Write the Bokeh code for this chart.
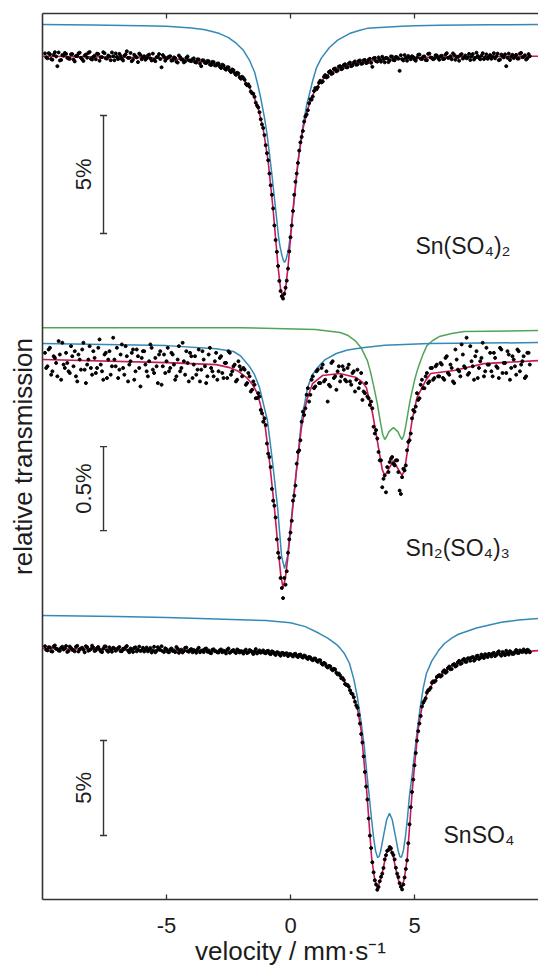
import numpy as np
from math import pi
from bokeh.plotting import figure
from bokeh.models import Range1d, LinearAxis, FixedTicker, Label
from bokeh.embed import file_html
from bokeh.resources import INLINE

# ---------------- data (relative transmission in %) ----------------
# velocity channels, mm/s (two interleaved channel sets)
velocity_a = np.round(np.linspace(-9.9, 9.6, 196), 2)
velocity_b = np.round(np.linspace(-9.85, 9.65, 196), 2)
x_ticks = [-5, 0, 5]

# --- Sn(SO4)2 ---
snso42_points_a = [
    100.09, 99.88, 100.05, 99.82, 100.14, 99.55, 99.79, 100.02, 100.11, 99.9,
    99.86, 100.06, 99.75, 99.97, 100.12, 99.84, 100.0, 99.91, 100.15, 99.83,
    99.99, 100.08, 99.78, 99.93, 100.1, 99.87, 99.96, 100.13, 99.8, 99.94,
    100.07, 99.85, 99.99, 100.18, 99.9, 99.76, 100.03, 99.92, 100.08, 99.84,
    99.97, 99.88, 100.04, 99.79, 99.81, 99.93, 100.06, 99.5, 99.95, 99.87,
    99.95, 99.78, 99.92, 99.74, 100.0, 99.83, 99.71, 99.9, 99.8, 99.76,
    99.88, 99.7, 99.83, 99.55, 99.79, 99.68, 99.76, 99.6, 99.72, 99.58,
    99.66, 99.47, 99.58, 99.4, 99.5, 99.3, 99.38, 99.18, 99.24, 99.02,
    99.05, 98.8, 98.78, 98.47, 98.38, 98.0, 97.8, 97.3, 96.93, 96.2,
    95.56, 94.5, 93.52, 92.18, 91.08, 90.02, 89.7, 90.16, 90.97, 92.3,
    93.41, 94.65, 95.45, 96.32, 96.8, 97.42, 97.68, 98.15, 98.26, 98.62,
    98.66, 98.93, 98.9, 99.17, 99.1, 99.34, 99.25, 99.45, 99.36, 99.55,
    99.45, 99.63, 99.5, 99.7, 99.58, 99.75, 99.62, 99.79, 99.66, 99.81,
    99.7, 99.86, 99.52, 99.9, 99.74, 99.83, 99.95, 99.71, 99.88, 99.79,
    99.95, 99.8, 99.92, 99.35, 99.84, 100.02, 99.78, 99.9, 99.97, 99.83,
    99.91, 100.04, 99.85, 99.96, 99.8, 100.08, 99.9, 99.87, 100.0, 99.82,
    99.99, 99.86, 100.1, 99.91, 99.84, 100.03, 99.95, 99.78, 100.06, 99.92,
    99.88, 100.07, 99.96, 99.83, 100.12, 99.9, 99.99, 99.85, 100.05, 99.93,
    99.86, 100.1, 99.97, 99.8, 100.04, 99.92, 99.55, 100.08, 99.95, 99.89,
    100.03, 99.87, 100.11, 99.94, 99.83, 100.06,
]
snso42_points_b = [
    99.92, 100.1, 99.85, 100.03, 99.96, 100.13, 99.81, 99.99, 100.07, 99.87,
    100.05, 99.83, 99.98, 100.09, 99.9, 99.77, 100.04, 100.11, 99.86, 99.95,
    99.84, 100.06, 99.93, 100.14, 99.88, 100.0, 99.8, 99.97, 100.09, 99.85,
    99.98, 99.79, 100.05, 99.9, 100.11, 99.83, 99.96, 99.72, 100.02, 99.93,
    99.82, 100.0, 99.88, 100.08, 99.76, 99.95, 99.85, 100.02, 99.78, 99.91,
    99.97, 99.8, 99.89, 99.7, 99.93, 99.84, 99.75, 99.96, 99.78, 99.85,
    99.72, 99.84, 99.66, 99.8, 99.69, 99.77, 99.62, 99.73, 99.58, 99.66,
    99.53, 99.61, 99.44, 99.5, 99.36, 99.41, 99.25, 99.27, 99.08, 99.1,
    98.97, 98.74, 98.68, 98.4, 98.25, 97.88, 97.6, 97.08, 96.63, 95.86,
    95.0, 94.1, 92.8, 91.68, 90.45, 89.8, 89.9, 90.46, 91.7, 92.8,
    94.1, 95.0, 95.97, 96.55, 97.2, 97.5, 97.98, 98.13, 98.5, 98.57,
    98.85, 98.86, 99.1, 99.07, 99.3, 99.22, 99.43, 99.33, 99.53, 99.42,
    99.6, 99.5, 99.66, 99.55, 99.7, 99.61, 99.77, 99.65, 99.8, 99.68,
    99.82, 99.69, 99.88, 99.76, 99.92, 99.74, 99.85, 99.9, 99.72, 99.96,
    99.81, 99.94, 99.86, 100.01, 99.79, 99.9, 99.98, 99.84, 99.93, 99.78,
    100.03, 99.86, 99.95, 99.81, 100.07, 99.92, 99.84, 100.01, 99.89, 99.97,
    99.85, 100.04, 99.9, 99.97, 100.09, 99.82, 99.94, 100.02, 99.87, 100.0,
    99.93, 99.81, 100.06, 99.9, 99.98, 99.84, 100.1, 99.92, 99.86, 100.02,
    99.95, 99.88, 100.08, 99.83, 99.97, 100.05, 99.9, 99.81, 100.03, 99.96,
    99.87, 100.08, 99.93, 100.01, 99.88, 99.97,
]
snso42_fit_v = [-10, -8, -6, -5, -4.5, -4, -3.5, -3.3, -3, -2.8, -2.5, -2.25, -2,
                -1.85, -1.7, -1.5, -1.3, -1.1, -0.9, -0.7, -0.6, -0.5, -0.4, -0.3,
                -0.2, -0.1, 0.0, 0.1, 0.3, 0.5, 0.7, 0.9, 1.1, 1.25, 1.4, 1.6, 1.8,
                2.0, 2.3, 2.6, 3, 3.5, 4, 5, 6, 8, 10]
snso42_fit = [99.97, 99.95, 99.91, 99.87, 99.84, 99.79, 99.73, 99.7, 99.62, 99.56,
              99.44, 99.29, 99.09, 98.93, 98.72, 98.33, 97.75, 96.88, 95.51, 93.47,
              92.24, 91.03, 90.1, 89.75, 90.1, 91.03, 92.24, 93.47, 95.51, 96.88,
              97.75, 98.33, 98.72, 98.93, 99.09, 99.26, 99.39, 99.48, 99.59, 99.67,
              99.74, 99.8, 99.85, 99.9, 99.93, 99.96, 99.97]
snso42_sn4_v = [-10, -8, -6, -5, -4, -3.5, -3.2, -2.86, -2.5, -2.18, -1.9, -1.65,
                -1.45, -1.33, -1.2, -1.05, -0.95, -0.85, -0.75, -0.65, -0.56, -0.48,
                -0.42, -0.36, -0.3, -0.24, -0.18, -0.12, -0.08, -0.04, 0.06, 0.16,
                0.26, 0.36, 0.46, 0.56, 0.66, 0.77, 0.9, 1.05, 1.25, 1.57, 1.9, 2.38,
                2.8, 3.1, 3.6, 4.5, 5, 6, 8, 10]
snso42_sn4 = [101.31, 101.29, 101.26, 101.24, 101.17, 101.1, 101.03, 100.93, 100.76,
              100.51, 100.22, 99.79, 99.3, 98.81, 98.2, 97.37, 96.7, 95.85, 94.95,
              93.98, 93.1, 92.29, 91.9, 91.6, 91.35, 91.23, 91.35, 91.6, 91.8, 92.1,
              92.95, 93.98, 95.0, 95.97, 96.75, 97.37, 97.95, 98.39, 98.95, 99.49,
              99.9, 100.34, 100.65, 100.93, 101.07, 101.15, 101.19, 101.24, 101.26,
              101.28, 101.3, 101.31]

# --- Sn2(SO4)3 ---
sn2so43_points_a = [
    100.04, 99.96, 100.07, 99.93, 100.01, 99.9, 100.03, 100.1, 99.95, 99.98,
    99.92, 100.02, 100.05, 99.87, 100.0, 100.06, 99.94, 99.97, 100.08, 99.91,
    100.01, 99.95, 100.12, 99.93, 100.03, 99.89, 100.05, 99.96, 100.0, 100.07,
    99.94, 100.09, 99.91, 100.02, 99.97, 100.04, 99.88, 100.06, 99.95, 100.01,
    100.05, 99.93, 99.99, 100.07, 99.92, 99.96, 100.03, 99.85, 100.03, 99.99,
    99.93, 100.04, 99.97, 99.9, 100.08, 99.95, 99.99, 100.05, 99.87, 100.02,
    99.97, 99.91, 100.06, 99.94, 100.0, 99.86, 100.03, 99.95, 99.9, 100.04,
    99.93, 100.02, 99.89, 99.98, 100.05, 99.91, 99.96, 99.87, 99.99, 99.94,
    99.95, 99.85, 99.92, 99.81, 99.87, 99.77, 99.8, 99.7, 99.63, 99.61,
    99.44, 99.36, 99.16, 99.06, 98.85, 98.7, 98.58, 98.66, 98.85, 98.97,
    99.16, 99.25, 99.45, 99.52, 99.69, 99.71, 99.83, 99.79, 99.9, 99.84,
    99.94, 99.86, 99.97, 99.88, 99.75, 99.84, 99.99, 99.9, 99.93, 99.87,
    99.96, 99.88, 99.95, 99.87, 99.92, 99.81, 99.94, 99.86, 99.76, 99.8,
    99.78, 99.73, 99.71, 99.56, 99.53, 99.4, 99.24, 99.31, 99.36, 99.39,
    99.42, 99.37, 99.4, 99.22, 99.3, 99.34, 99.46, 99.52, 99.65, 99.69,
    99.8, 99.77, 99.88, 99.83, 99.92, 99.87, 99.95, 99.89, 99.97, 99.9,
    99.97, 99.88, 100.02, 99.91, 99.95, 99.86, 100.0, 99.93, 100.09, 99.96,
    100.13, 99.92, 99.99, 99.88, 100.05, 99.95, 100.01, 99.9, 100.07, 99.97,
    99.93, 100.04, 99.96, 99.89, 100.06, 99.98, 99.92, 100.03, 99.95, 100.0,
    99.91, 100.05, 99.97, 100.02, 99.9, 100.04,
]
sn2so43_points_b = [
    99.95, 100.06, 99.91, 100.02, 99.98, 100.11, 99.88, 99.97, 100.04, 99.93,
    100.08, 99.96, 99.9, 100.03, 99.94, 100.1, 99.86, 100.0, 99.95, 100.05,
    99.92, 100.07, 99.97, 99.88, 100.04, 100.0, 99.91, 100.13, 99.96, 99.89,
    100.03, 99.95, 100.08, 99.87, 99.99, 100.06, 99.93, 100.02, 99.84, 100.05,
    99.97, 99.9, 100.09, 99.94, 100.01, 99.86, 100.05, 99.96, 99.92, 100.07,
    99.95, 100.03, 99.88, 100.0, 99.93, 100.1, 99.91, 99.98, 100.04, 99.89,
    100.02, 99.94, 99.87, 100.05, 99.96, 99.9, 100.07, 99.93, 99.99, 99.88,
    100.01, 99.92, 99.98, 99.89, 100.04, 99.93, 99.97, 99.88, 99.96, 99.9,
    99.94, 99.86, 99.9, 99.82, 99.85, 99.77, 99.78, 99.68, 99.65, 99.5,
    99.42, 99.23, 99.13, 98.93, 98.82, 98.64, 98.7, 98.74, 98.93, 99.04,
    99.19, 99.38, 99.46, 99.63, 99.67, 99.79, 99.75, 99.88, 99.83, 99.93,
    99.86, 99.95, 99.87, 99.93, 99.85, 99.98, 99.89, 99.82, 99.96, 99.9,
    99.94, 99.87, 99.97, 99.85, 99.93, 99.88, 99.83, 99.92, 99.81, 99.86,
    99.77, 99.75, 99.6, 99.58, 99.45, 99.4, 99.29, 99.21, 99.33, 99.41,
    99.38, 99.4, 99.33, 99.2, 99.35, 99.37, 99.51, 99.56, 99.7, 99.72,
    99.76, 99.85, 99.83, 99.9, 99.86, 99.95, 99.88, 99.96, 99.9, 99.98,
    99.89, 100.01, 99.92, 99.97, 99.87, 100.06, 99.94, 99.9, 100.03, 99.95,
    99.91, 100.08, 99.96, 100.02, 99.89, 99.99, 100.1, 99.93, 99.97, 100.04,
    99.9, 100.01, 99.95, 100.07, 99.92, 99.98, 100.05, 99.88, 100.02, 99.96,
    100.06, 99.93, 99.99, 99.89, 100.04, 99.97,
]
sn2so43_fit_v = [-10, -5, -3, -2.45, -2.1, -1.77, -1.55, -1.33, -1.05, -0.85, -0.65,
                 -0.48, -0.39, -0.3, -0.21, -0.12, 0.04, 0.24, 0.44, 0.65, 0.89, 1.29,
                 1.98, 2.66, 2.9, 3.06, 3.31, 3.59, 3.7, 3.8, 3.9, 4.15, 4.4, 4.5, 4.6,
                 4.7, 4.9, 5.1, 5.45, 5.65, 6.6, 7.8, 10]
sn2so43_fit = [100.0, 99.982, 99.97, 99.952, 99.93, 99.893, 99.855, 99.798, 99.637,
               99.399, 99.119, 98.845, 98.714, 98.643, 98.696, 98.804, 99.042, 99.339,
               99.595, 99.756, 99.857, 99.905, 99.917, 99.893, 99.865, 99.833, 99.679,
               99.44, 99.345, 99.31, 99.333, 99.399, 99.333, 99.31, 99.345, 99.44,
               99.637, 99.774, 99.875, 99.917, 99.935, 99.976, 99.994]
sn2so43_sn4_v = [-10, -5, -3, -2.3, -2.0, -1.65, -1.45, -1.25, -0.93, -0.73, -0.52,
                 -0.36, -0.24, -0.12, 0.08, 0.28, 0.44, 0.69, 0.88, 1.09, 1.4, 1.85,
                 2.3, 2.9, 3.8, 5.6, 10]
sn2so43_sn4 = [100.095, 100.083, 100.065, 100.048, 100.02, 99.958, 99.91, 99.833,
               99.637, 99.399, 99.119, 98.83, 98.756, 98.83, 99.119, 99.399, 99.637,
               99.833, 99.91, 99.952, 100.0, 100.036, 100.057, 100.071, 100.085,
               100.095, 100.101]
sn2so43_sn2_v = [-10, -2, 1.0, 2.0, 2.3, 2.6, 2.85, 3.1, 3.22, 3.35, 3.5, 3.65, 3.72,
                 3.8, 3.88, 3.97, 4.15, 4.33, 4.42, 4.5, 4.58, 4.65, 4.82, 5.0, 5.12,
                 5.25, 5.37, 5.5, 5.75, 6.0, 6.5, 7.0, 10]
sn2so43_sn2 = [100.19, 100.19, 100.179, 100.161, 100.145, 100.113, 100.07, 99.994,
               99.93, 99.845, 99.738, 99.607, 99.554, 99.524, 99.542, 99.571, 99.595,
               99.571, 99.542, 99.524, 99.554, 99.607, 99.756, 99.875, 99.94, 99.994,
               100.04, 100.083, 100.115, 100.137, 100.155, 100.167, 100.173]

# --- SnSO4 ---
snso4_points_a = [
    100.12, 99.9, 100.05, 99.84, 100.16, 99.97, 99.88, 100.09, 100.0, 99.82,
    100.1, 99.93, 99.85, 100.14, 99.96, 100.04, 99.8, 100.07, 99.92, 100.15,
    99.87, 100.02, 99.95, 99.81, 100.11, 99.9, 100.06, 99.83, 100.0, 99.94,
    100.08, 99.86, 99.97, 100.13, 99.8, 99.95, 100.03, 99.85, 100.1, 99.91,
    99.84, 100.05, 99.93, 99.79, 100.09, 99.88, 99.98, 100.12, 99.82, 99.96,
    99.8, 100.0, 99.9, 100.08, 99.77, 99.94, 99.86, 100.05, 99.83, 99.97,
    99.92, 99.78, 100.04, 99.87, 99.81, 100.0, 99.9, 99.75, 99.96, 99.85,
    99.79, 99.95, 99.88, 99.74, 100.0, 99.83, 99.92, 99.76, 99.9, 99.86,
    99.73, 99.94, 99.8, 99.88, 99.71, 99.97, 99.82, 99.78, 99.9, 99.75,
    99.88, 99.7, 99.82, 99.66, 99.79, 99.62, 99.76, 99.73, 99.6, 99.71,
    99.58, 99.72, 99.55, 99.68, 99.52, 99.6, 99.45, 99.53, 99.38, 99.47,
    99.3, 99.38, 99.15, 99.2, 99.0, 99.06, 98.85, 98.9, 98.64, 98.58,
    98.45, 98.13, 98.08, 97.8, 97.6, 97.2, 96.88, 96.05, 95.05, 93.5,
    92.05, 90.15, 88.75, 87.8, 87.3, 87.75, 88.15, 88.9, 89.35, 89.55,
    89.25, 88.9, 88.15, 87.65, 87.32, 87.95, 88.85, 90.75, 92.45, 93.85,
    95.15, 96.05, 96.95, 97.25, 97.68, 97.83, 98.2, 98.24, 98.5, 98.6,
    98.58, 98.85, 98.78, 99.05, 98.92, 99.18, 99.1, 99.35, 99.22, 99.45,
    99.3, 99.48, 99.52, 99.36, 99.6, 99.45, 99.68, 99.5, 99.63, 99.72,
    99.58, 99.77, 99.66, 99.85, 99.62, 99.74, 99.88, 99.68, 99.8, 99.72,
    99.92, 99.76, 99.85, 99.95, 99.79, 99.9,
]
snso4_points_b = [
    99.93, 100.07, 99.86, 100.11, 99.98, 99.89, 100.04, 99.95, 100.13, 99.87,
    100.03, 99.91, 100.09, 99.84, 100.0, 99.94, 100.12, 99.88, 99.97, 100.05,
    99.9, 100.08, 99.85, 99.99, 100.1, 99.83, 99.95, 100.04, 99.88, 100.02,
    99.86, 99.98, 100.07, 99.89, 100.0, 99.82, 100.06, 99.93, 99.87, 100.04,
    99.96, 99.85, 100.03, 99.9, 99.8, 100.07, 99.92, 99.86, 100.01, 99.83,
    99.95, 99.87, 99.81, 99.99, 99.9, 99.79, 100.03, 99.86, 99.93, 99.8,
    99.87, 99.95, 99.8, 99.9, 99.97, 99.83, 99.78, 99.93, 99.86, 99.8,
    99.91, 99.8, 99.85, 99.94, 99.77, 99.88, 99.82, 99.95, 99.79, 99.84,
    99.87, 99.76, 99.92, 99.81, 99.85, 99.74, 99.9, 99.83, 99.77, 99.86,
    99.74, 99.85, 99.72, 99.8, 99.69, 99.77, 99.66, 99.75, 99.7, 99.64,
    99.7, 99.6, 99.66, 99.57, 99.63, 99.5, 99.55, 99.42, 99.47, 99.35,
    99.38, 99.21, 99.24, 99.06, 99.08, 98.92, 98.93, 98.72, 98.68, 98.43,
    98.34, 98.08, 97.99, 97.65, 97.44, 97.0, 96.5, 95.5, 94.32, 92.73,
    91.05, 89.5, 88.22, 87.58, 87.45, 87.98, 88.45, 89.12, 89.4, 89.48,
    89.13, 88.46, 87.97, 87.46, 87.58, 88.4, 89.75, 91.65, 93.1, 94.5,
    95.65, 96.45, 97.15, 97.38, 97.8, 97.93, 98.27, 98.3, 98.55, 98.52,
    98.78, 98.72, 98.97, 98.91, 99.14, 99.05, 99.28, 99.19, 99.4, 99.3,
    99.48, 99.35, 99.55, 99.44, 99.62, 99.5, 99.58, 99.7, 99.55, 99.68,
    99.73, 99.6, 99.79, 99.69, 99.82, 99.65, 99.76, 99.86, 99.71, 99.83,
    99.77, 99.9, 99.81, 99.88, 99.93, 99.8,
]
snso4_fit_v = [-10, -7, -5, -3, -1, 0.4, 0.8, 1.1, 1.45, 1.8, 2.09, 2.22, 2.35, 2.45,
               2.55, 2.7, 2.85, 2.99, 3.07, 3.14, 3.27, 3.39, 3.5, 3.62, 3.74, 3.86,
               3.99, 4.12, 4.24, 4.36, 4.48, 4.59, 4.71, 4.84, 4.91, 4.99, 5.14, 5.29,
               5.44, 5.54, 5.64, 5.76, 5.89, 6.15, 6.5, 6.9, 7.6, 8.5, 10]
snso4_fit = [100.0, 99.95, 99.89, 99.84, 99.79, 99.63, 99.5, 99.37, 99.13, 98.84,
             98.42, 98.2, 97.95, 97.72, 97.42, 96.84, 95.68, 93.68, 92.53, 91.32,
             89.0, 87.89, 87.37, 87.79, 88.42, 89.21, 89.53, 89.21, 88.42, 87.79,
             87.37, 87.89, 89.0, 91.32, 92.53, 93.68, 95.68, 96.84, 97.42, 97.72,
             97.95, 98.2, 98.42, 98.75, 99.1, 99.37, 99.56, 99.74, 99.89]
snso4_sn2_v = [-10, -7, -5, -3, -1, 0, 0.6, 1.15, 1.5, 1.85, 2.0, 2.17, 2.38, 2.55,
               2.7, 2.85, 2.98, 3.08, 3.18, 3.27, 3.35, 3.43, 3.51, 3.57, 3.63, 3.76,
               3.88, 3.99, 4.1, 4.22, 4.35, 4.41, 4.47, 4.55, 4.63, 4.71, 4.79, 4.91,
               5.03, 5.13, 5.23, 5.35, 5.48, 5.7, 5.97, 6.2, 6.5, 6.77, 7.5, 8.5, 9.2, 10]
snso4_sn2 = [101.74, 101.68, 101.63, 101.55, 101.47, 101.36, 101.15, 100.8, 100.55,
             100.22, 100.02, 99.74, 99.21, 98.4, 97.42, 96.1, 94.79, 93.4, 92.16, 91.0,
             90.05, 89.35, 89.0, 89.05, 89.3, 90.2, 91.0, 91.32, 91.0, 90.2, 89.3,
             89.05, 89.0, 89.35, 90.05, 91.0, 92.16, 93.4, 94.79, 95.9, 96.89, 97.9,
             98.68, 99.35, 99.89, 100.25, 100.55, 100.75, 101.08, 101.38, 101.5, 101.58]

# scale bars: (value range in %, label)
scalebar_top = (97.46, 92.46, "5%")
scalebar_mid = (99.482, 98.982, "0.5%")
scalebar_bot = (95.16, 90.16, "5%")

# ---------------- styling ----------------
FONT = "Liberation Sans"
RED = "#c8185c"
BLUE = "#3589b6"
GREEN = "#4fa55a"
AX = "#333333"
TXT = "#1c1c1c"

p = figure(width=538, height=968, x_range=Range1d(-10.0, 10.0), y_range=Range1d(0, 1),
           output_backend="svg", toolbar_location=None,
           x_axis_location=None, y_axis_location=None,
           min_border_left=42, min_border_right=0, min_border_top=13, min_border_bottom=69)
p.outline_line_color = None
p.xgrid.visible = False
p.ygrid.visible = False
p.background_fill_color = "white"
p.border_fill_color = "white"

# each spectrum has its own transmission scale
p.extra_y_ranges = {
    "top": Range1d(64.237, 101.780),
    "mid": Range1d(96.786, 102.060),
    "bot": Range1d(86.789, 133.421),
}

below = LinearAxis(ticker=FixedTicker(ticks=x_ticks), major_tick_in=5, major_tick_out=0,
                   minor_tick_line_color=None, axis_line_color=AX, axis_line_width=1.6,
                   major_tick_line_color=AX, major_tick_line_width=1.3,
                   major_label_text_font=FONT, major_label_text_font_size="22px",
                   major_label_text_color=TXT, major_label_standoff=18,
                   major_label_overrides={t: str(t) for t in x_ticks},
                   axis_label="velocity / mm·s⁻¹", axis_label_text_font=FONT,
                   axis_label_text_font_size="26px", axis_label_text_font_style="normal",
                   axis_label_text_color=TXT, axis_label_standoff=0)
p.add_layout(below, "below")
above = LinearAxis(ticker=FixedTicker(ticks=[]), major_tick_in=0, major_tick_out=0,
                   minor_tick_line_color=None, axis_line_color=AX, axis_line_width=1.6,
                   major_label_standoff=0)
p.add_layout(above, "above")
left = LinearAxis(ticker=FixedTicker(ticks=[]), major_tick_in=0, major_tick_out=0,
                  minor_tick_line_color=None, axis_line_color=AX, axis_line_width=1.6,
                  major_label_standoff=0,
                  axis_label="relative transmission", axis_label_text_font=FONT,
                  axis_label_text_font_size="26px", axis_label_text_font_style="normal",
                  axis_label_text_color=TXT, axis_label_standoff=5)
p.add_layout(left, "left")
# inward ticks along the top edge (half of each dash is clipped by the frame)
p.scatter(x_ticks, [101.78] * len(x_ticks), y_range_name="top", marker="dash",
          angle=pi / 2, size=10, line_color=AX, line_width=1.3)

vel = np.concatenate([velocity_a, velocity_b])

# ---- Sn(SO4)2 ----
p.line(snso42_sn4_v, snso42_sn4, y_range_name="top", line_color=BLUE, line_width=1.5)
p.line(snso42_fit_v, snso42_fit, y_range_name="top", line_color=RED, line_width=1.6)
p.scatter(vel, snso42_points_a + snso42_points_b, y_range_name="top", size=3, color="black")

# ---- Sn2(SO4)3 ----
p.line(sn2so43_sn2_v, sn2so43_sn2, y_range_name="mid", line_color=GREEN, line_width=1.5)
p.line(sn2so43_sn4_v, sn2so43_sn4, y_range_name="mid", line_color=BLUE, line_width=1.5)
p.line(sn2so43_fit_v, sn2so43_fit, y_range_name="mid", line_color=RED, line_width=1.6)
p.scatter(vel, sn2so43_points_a + sn2so43_points_b, y_range_name="mid", size=3, color="black")

# ---- SnSO4 ----
p.line(snso4_sn2_v, snso4_sn2, y_range_name="bot", line_color=BLUE, line_width=1.5)
p.line(snso4_fit_v, snso4_fit, y_range_name="bot", line_color=RED, line_width=1.6)
p.scatter(vel, snso4_points_a + snso4_points_b, y_range_name="bot", size=3, color="black")

# ---- scale bars ----
BAR_X = -7.54
for name, (y0, y1, txt) in (("top", scalebar_top), ("mid", scalebar_mid), ("bot", scalebar_bot)):
    p.segment(x0=[BAR_X], y0=[y0], x1=[BAR_X], y1=[y1], y_range_name=name,
              line_color=AX, line_width=1.4)
    p.scatter([BAR_X, BAR_X], [y0, y1], y_range_name=name, marker="dash", size=7,
              line_color=AX, line_width=1.4)
    p.add_layout(Label(x=-8.35, y=(y0 + y1) / 2, y_range_name=name, text=txt,
                       angle=pi / 2, text_align="center", text_baseline="middle",
                       text_font=FONT, text_font_size="22px", text_color=TXT))

# ---- sample names ----
for name, x, y, txt in (("top", 5.04, 91.91, "Sn(SO₄)₂"),
                        ("mid", 4.64, 98.881, "Sn₂(SO₄)₃"),
                        ("bot", 6.17, 90.16, "SnSO₄")):
    p.add_layout(Label(x=x, y=y, y_range_name=name, text=txt, text_align="left",
                       text_baseline="alphabetic", text_font=FONT,
                       text_font_size="23px", text_color=TXT))

open("out.html", "w").write(file_html(p, INLINE))
